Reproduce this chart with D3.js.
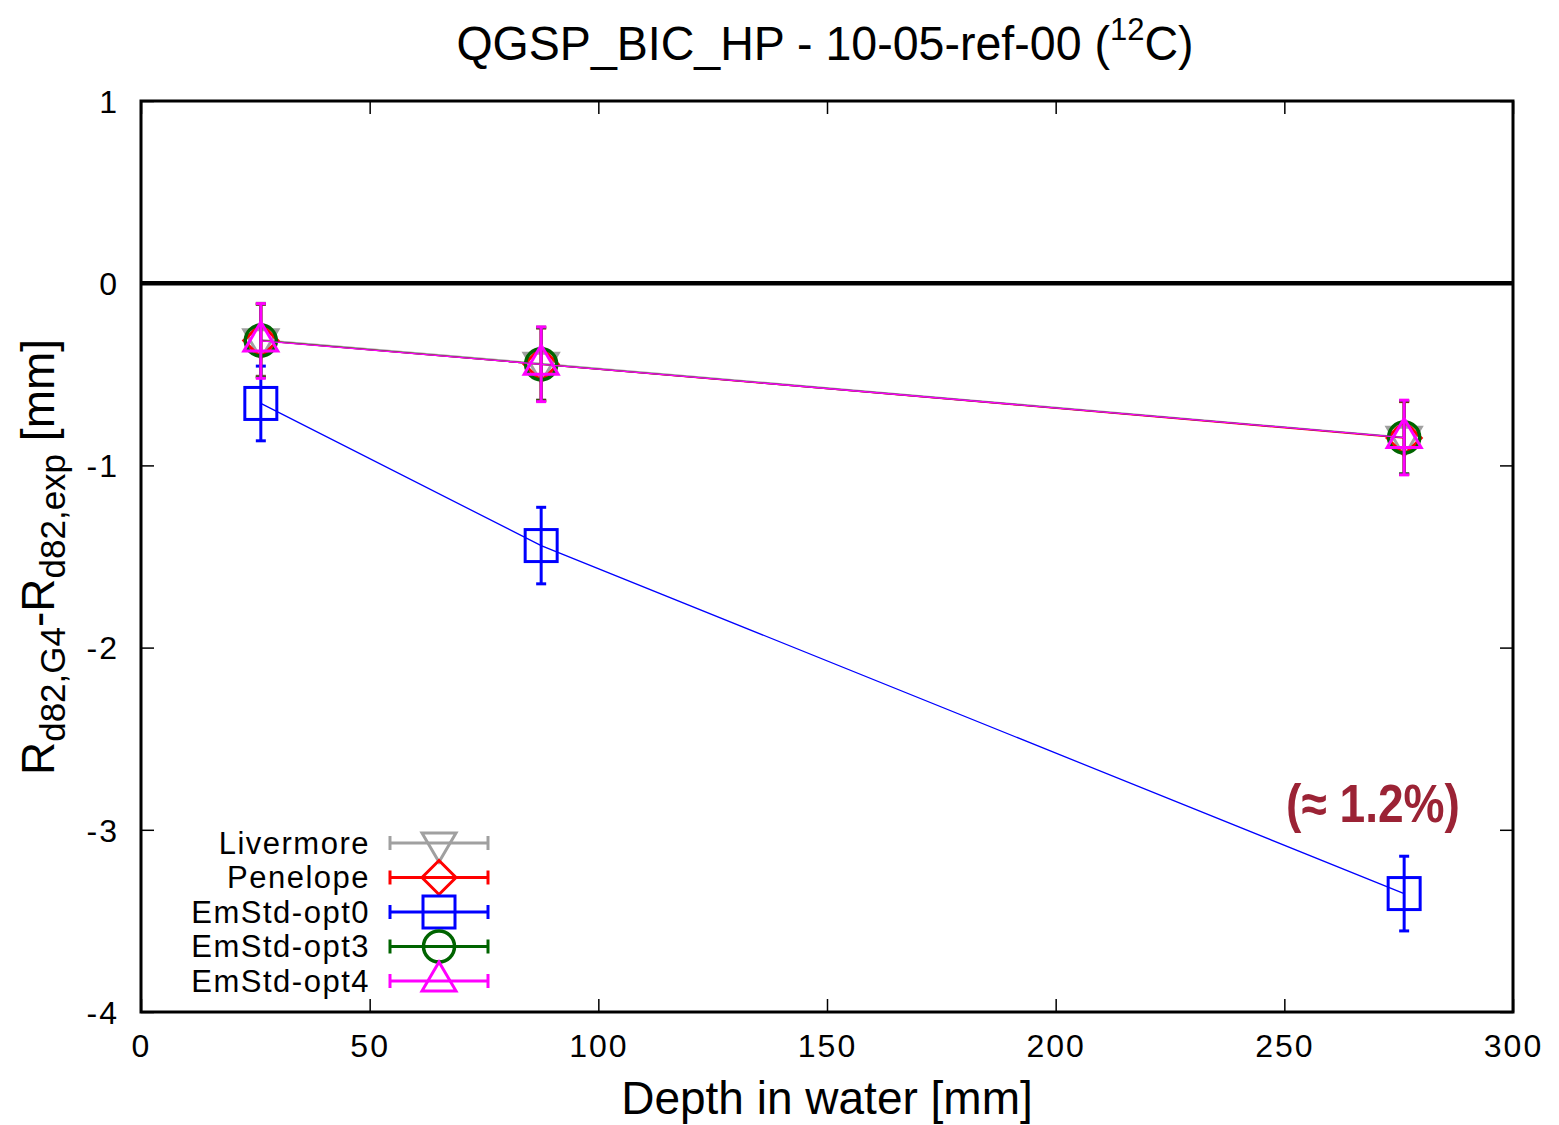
<!DOCTYPE html>
<html><head><meta charset="utf-8">
<script src="https://cdn.jsdelivr.net/npm/d3@7"></script>
<style>
html,body{margin:0;padding:0;background:#fff;}
svg{display:block;}
</style></head>
<body>
<svg id="c" width="1559" height="1125"></svg>
<script>
const depths = [26.2, 87.5, 276.2];
const seriesNames = ["Livermore", "Penelope", "EmStd-opt0", "EmStd-opt3", "EmStd-opt4"];
const seriesColors = ["#a0a0a0", "#ff0000", "#0000ff", "#006400", "#ff00ff"];
const seriesSymbols = ["triDown", "diamond", "square", "circle", "triUp"];
const livermoreValues = [-0.31, -0.44, -0.845];
const penelopeValues = [-0.315, -0.445, -0.85];
const opt0Values = [-0.66, -1.44, -3.35];
const opt3Values = [-0.315, -0.445, -0.847];
const opt4Values = [-0.317, -0.445, -0.847];
const errLivermore = [0.2, 0.2, 0.2];
const errPenelope = [0.2, 0.2, 0.2];
const errOpt0 = [0.205, 0.21, 0.205];
const errOpt3 = [0.2, 0.2, 0.2];
const errOpt4 = [0.205, 0.205, 0.205];
const xTicks = [0, 50, 100, 150, 200, 250, 300];
const yTicks = [1, 0, -1, -2, -3, -4];

const allValues = [livermoreValues, penelopeValues, opt0Values, opt3Values, opt4Values];
const allErrs = [errLivermore, errPenelope, errOpt0, errOpt3, errOpt4];

const svg = d3.select("#c");
const L = 141, R = 1513, T = 101, B = 1012;
const x = d3.scaleLinear().domain([0, 300]).range([L, R]);
const y = d3.scaleLinear().domain([-4, 1]).range([B, T]);
const font = "'Liberation Sans', Arial, sans-serif";

// axes with inward ticks
const tickLen = 13;
const gx = svg.append("g").attr("transform", `translate(0,${B})`)
  .call(d3.axisBottom(x).tickValues(xTicks).tickSize(-tickLen).tickPadding(22).tickFormat(d3.format("d")));
const gxt = svg.append("g").attr("transform", `translate(0,${T})`)
  .call(d3.axisTop(x).tickValues(xTicks).tickSize(-tickLen).tickFormat(""));
const gy = svg.append("g").attr("transform", `translate(${L},0)`)
  .call(d3.axisLeft(y).tickValues(yTicks).tickSize(-tickLen).tickPadding(22).tickFormat(d3.format("d")));
const gyr = svg.append("g").attr("transform", `translate(${R},0)`)
  .call(d3.axisRight(y).tickValues(yTicks).tickSize(-tickLen).tickFormat(""));
[gx, gxt, gy, gyr].forEach(g => {
  g.select(".domain").remove();
  g.selectAll(".tick line").attr("stroke", "#000").attr("stroke-width", 1.5);
  g.selectAll(".tick text").attr("font-family", font).attr("font-size", 32).attr("fill", "#000").attr("letter-spacing", 2);
});
gy.selectAll(".tick text").attr("dy", "0.35em").text(d => d < 0 ? "-" + Math.abs(d) : d);
gx.selectAll(".tick text").attr("dy", "0.71em");

// zero line
svg.append("line").attr("x1", L).attr("x2", R).attr("y1", y(0)).attr("y2", y(0))
  .attr("stroke", "#000").attr("stroke-width", 4.5);

// frame
svg.append("rect").attr("x", L).attr("y", T).attr("width", R - L).attr("height", B - T)
  .attr("fill", "none").attr("stroke", "#000").attr("stroke-width", 3);

function symbolPath(g, type, cx, cy, color) {
  const sw = 3;
  if (type === "square") {
    g.append("rect").attr("x", cx - 16).attr("y", cy - 16).attr("width", 32).attr("height", 32)
      .attr("fill", "none").attr("stroke", color).attr("stroke-width", sw);
  } else if (type === "circle") {
    g.append("circle").attr("cx", cx).attr("cy", cy).attr("r", 15.5)
      .attr("fill", "none").attr("stroke", color).attr("stroke-width", 3.5);
  } else if (type === "diamond") {
    g.append("path").attr("d", `M${cx},${cy - 17}L${cx + 17},${cy}L${cx},${cy + 17}L${cx - 17},${cy}Z`)
      .attr("fill", "none").attr("stroke", color).attr("stroke-width", sw);
  } else if (type === "triUp") {
    g.append("path").attr("d", `M${cx},${cy - 19}L${cx + 17},${cy + 10}L${cx - 17},${cy + 10}Z`)
      .attr("fill", "none").attr("stroke", color).attr("stroke-width", sw);
  } else if (type === "triDown") {
    g.append("path").attr("d", `M${cx},${cy + 19}L${cx + 17},${cy - 10}L${cx - 17},${cy - 10}Z`)
      .attr("fill", "none").attr("stroke", color).attr("stroke-width", sw);
  }
}

// series
const plot = svg.append("g");
const line = d3.line().x(d => x(d[0])).y(d => y(d[1]));
seriesNames.forEach((name, i) => {
  const vals = allValues[i], errs = allErrs[i], col = seriesColors[i];
  const pts = depths.map((d, j) => [d, vals[j], errs[j]]);
  const g = plot.append("g");
  g.append("path").attr("d", line(pts)).attr("fill", "none").attr("stroke", col).attr("stroke-width", 1.3);
  pts.forEach(p => {
    const cx = x(p[0]);
    g.append("line").attr("x1", cx).attr("x2", cx).attr("y1", y(p[1] + p[2])).attr("y2", y(p[1] - p[2]))
      .attr("stroke", col).attr("stroke-width", 3);
    [p[1] + p[2], p[1] - p[2]].forEach(v => {
      g.append("line").attr("x1", cx - 5).attr("x2", cx + 5).attr("y1", y(v)).attr("y2", y(v))
        .attr("stroke", col).attr("stroke-width", 3);
    });
    symbolPath(g, seriesSymbols[i], cx, y(p[1]), col);
  });
});

// legend
const legY0 = 843, legDy = 34.5;
seriesNames.forEach((name, i) => {
  const ly = legY0 + i * legDy, col = seriesColors[i];
  const g = svg.append("g");
  g.append("text").attr("x", 370).attr("y", ly).attr("dy", "0.35em").attr("text-anchor", "end")
    .attr("font-family", font).attr("font-size", 31).attr("letter-spacing", 1.5).attr("fill", "#000").text(name);
  g.append("line").attr("x1", 390).attr("x2", 488).attr("y1", ly).attr("y2", ly).attr("stroke", col).attr("stroke-width", 3);
  [390, 488].forEach(xx => g.append("line").attr("x1", xx).attr("x2", xx).attr("y1", ly - 7).attr("y2", ly + 7)
    .attr("stroke", col).attr("stroke-width", 3));
  symbolPath(g, seriesSymbols[i], 439, ly, col);
});

// annotation (condensed bold)
svg.append("g").attr("transform", "translate(1373,822) scale(0.87,1)")
  .append("text").attr("x", 0).attr("y", 0).attr("text-anchor", "middle")
  .attr("font-family", font).attr("font-weight", "bold").attr("font-size", 53).attr("fill", "#9b2335")
  .text("(≈ 1.2%)");

// title
const title = svg.append("g").attr("transform", "translate(825,60) scale(0.97,1)")
  .append("text").attr("x", 0).attr("y", 0).attr("text-anchor", "middle")
  .attr("font-family", font).attr("font-size", 48).attr("fill", "#000");
title.append("tspan").text("QGSP_BIC_HP - 10-05-ref-00 (");
title.append("tspan").attr("font-size", 32).attr("dy", -20).text("12");
title.append("tspan").attr("dy", 20).text("C)");

// x label
svg.append("text").attr("x", 827).attr("y", 1114).attr("text-anchor", "middle")
  .attr("font-family", font).attr("font-size", 46).attr("fill", "#000").text("Depth in water [mm]");

// y label
const yl = svg.append("text").attr("transform", "translate(54,557) rotate(-90)").attr("text-anchor", "middle")
  .attr("font-family", font).attr("font-size", 46).attr("fill", "#000");
yl.append("tspan").text("R");
yl.append("tspan").attr("font-size", 35).attr("dy", 11).text("d82,G4");
yl.append("tspan").attr("dy", -11).text("-R");
yl.append("tspan").attr("font-size", 35).attr("dy", 11).text("d82,exp");
yl.append("tspan").attr("dy", -11).text(" [mm]");
</script>
</body></html>
